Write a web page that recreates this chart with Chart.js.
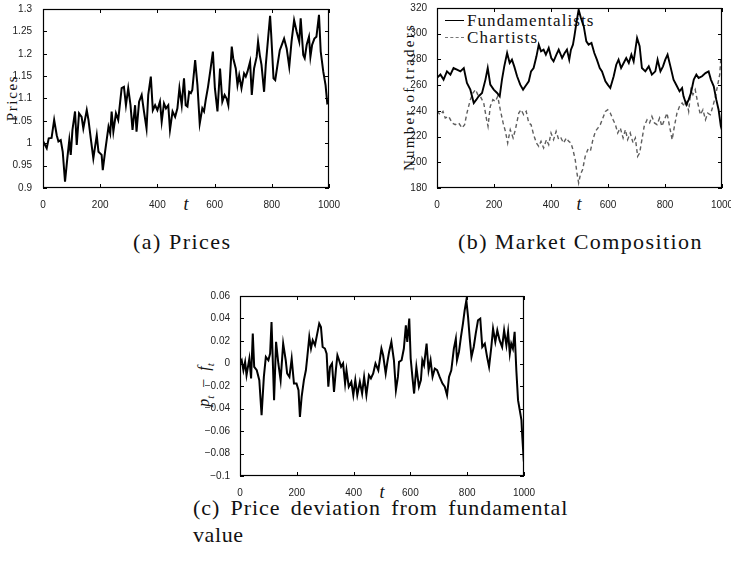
<!DOCTYPE html>
<html>
<head>
<meta charset="utf-8">
<script src="https://cdn.jsdelivr.net/npm/chart.js@4.4.1/dist/chart.umd.min.js"></script>
<style>
  html, body { margin: 0; padding: 0; background: #fff; }
  body { position: relative; width: 731px; height: 564px; overflow: hidden; }
  canvas { position: absolute; z-index: 2; }
  .lbl { position: absolute; white-space: nowrap; font-family: "Liberation Serif", serif; color: #111; line-height: 1; z-index: 1; }
  .rot { transform: translate(-50%, -50%) rotate(-90deg); }
  .ctr { transform: translate(-50%, -50%); }
  .mid { transform: translateY(-50%); }
  .leg-line { position: absolute; height: 0; z-index: 1; }
</style>
</head>
<body>
<canvas id="chartA" width="345" height="215" style="left:0px;top:0px"></canvas>
<canvas id="chartB" width="375" height="215" style="left:370px;top:0px"></canvas>
<canvas id="chartC" width="345" height="215" style="left:195px;top:285px"></canvas>

<div class="lbl rot" id="ylabA" style="left:12px;top:98px;font-size:15px">Prices</div>
<div class="lbl rot" id="ylabB" style="left:409px;top:97px;font-size:15px">Number of traders</div>
<div class="lbl rot" id="ylabC" style="left:206px;top:385px;font-size:16px"><i>p</i><sub style="font-size:11px"><i>t</i></sub> &nbsp;− &nbsp;<i>f</i><sub style="font-size:11px"><i>t</i></sub></div>
<div class="lbl ctr" style="left:186px;top:204px;font-size:18px"><i>t</i></div>
<div class="lbl ctr" style="left:579px;top:204px;font-size:18px"><i>t</i></div>
<div class="lbl ctr" style="left:382px;top:492px;font-size:18px"><i>t</i></div>

<div class="leg-line" style="left:445px;top:20px;width:19px;border-top:1.5px solid #000"></div>
<div class="lbl mid" id="legF" style="left:467px;top:20px;font-size:17px">Fundamentalists</div>
<div class="leg-line" style="left:445px;top:37px;width:19px;border-top:1.5px dashed #777"></div>
<div class="lbl mid" id="legC" style="left:467px;top:37px;font-size:17px">Chartists</div>

<div class="lbl mid" id="capA" style="left:133px;top:242px;font-size:22px">(a) Prices</div>
<div class="lbl mid" id="capB" style="left:458px;top:242px;font-size:22px">(b) Market Composition</div>
<div class="lbl mid" id="capC1" style="left:193px;top:508px;font-size:22px">(c) Price deviation from fundamental</div>
<div class="lbl mid" id="capC2" style="left:193px;top:535px;font-size:22px">value</div>

<script>
// (a) prices
const priceT = [0,4,13,20,30,39,48,54,62,69,77,85,92,97,103,112,118,126,135,141,153,159,167,176,188,194,205,209,217,229,235,240,246,255,263,275,283,290,298,306,313,322,327,336,345,353,362,368,377,384,392,400,409,415,423,430,438,444,453,462,470,477,485,493,499,505,511,517,522,532,540,548,557,563,569,577,586,594,601,610,619,627,635,642,648,660,665,674,680,686,694,703,709,715,724,730,738,747,752,758,764,773,779,787,794,798,806,812,820,828,835,843,852,861,869,878,887,896,901,910,915,922,930,935,941,949,956,965,971,980,988,994,1000];
const priceV = [0.995,1.0,0.989,1.011,1.012,1.052,1.018,1.004,1.007,0.981,0.914,0.966,1.007,0.974,1.03,1.071,0.996,1.067,1.059,1.033,1.074,1.052,1.011,0.966,1.018,0.981,0.974,0.94,0.981,1.037,1.022,1.071,1.026,1.067,1.052,1.123,1.126,1.085,1.123,1.085,1.03,1.085,1.026,1.093,1.108,1.071,1.033,1.108,1.149,1.074,1.085,1.074,1.093,1.048,1.089,1.078,1.085,1.03,1.071,1.059,1.078,1.123,1.085,1.145,1.085,1.082,1.115,1.112,1.119,1.186,1.13,1.044,1.078,1.071,1.097,1.126,1.167,1.205,1.123,1.071,1.167,1.093,1.108,1.1,1.085,1.216,1.19,1.167,1.13,1.152,1.123,1.156,1.149,1.16,1.182,1.108,1.167,1.193,1.227,1.197,1.175,1.115,1.175,1.234,1.285,1.242,1.145,1.141,1.175,1.208,1.22,1.234,1.212,1.171,1.227,1.275,1.249,1.227,1.279,1.197,1.19,1.22,1.238,1.193,1.22,1.234,1.238,1.287,1.205,1.16,1.13,1.089,1.09];
const priceTicks = [0.9,0.95,1,1.05,1.1,1.15,1.2,1.25,1.3];

// (b) market composition
const fundT = [0,12,23,35,47,58,70,82,94,105,117,129,138,146,158,170,178,187,199,211,220,228,236,246,255,263,271,281,292,302,310,322,330,339,349,357,365,374,382,392,401,409,419,427,439,448,456,464,470,477,482,489,497,505,515,524,532,542,552,561,571,579,591,599,608,620,629,637,646,655,664,673,682,690,702,711,719,731,743,754,766,774,784,793,801,809,819,830,842,851,860,865,875,883,891,901,910,918,930,942,953,961,971,980,988,996,1000];
const fundV = [265.6,268.2,264.3,270.7,268.2,273.3,272,270.7,273.3,261.7,256.5,246.1,248.7,251.3,253.9,264.3,273.3,260.4,256.5,253.9,251.3,264.3,274.6,285,277.2,279.8,274.6,266.9,260.4,256.5,259.1,263,270.7,273.3,282.4,291.5,286.3,287.6,283.7,288.9,281.1,278.5,283.7,287.6,281.1,285,287.6,279.8,287.6,291.5,298,308.3,318.7,312.2,305.7,294.1,291.5,292.8,285,279.8,273.3,270.7,263,260.4,257.8,266.9,275.9,279.8,273.3,277.2,281.1,277.2,283.7,278.5,296.7,290.2,273.3,270.7,274.6,268.2,270.7,279.8,270.7,274.6,279.8,283.7,274.6,264.3,259.1,255.2,257.8,251.3,244.8,248.7,253.9,264.3,268.2,265.6,266.9,269.4,270.7,264.3,259.1,248.7,240.9,228,225];
const chartT = [0,12,21,29,41,53,64,76,88,97,105,117,126,135,143,152,164,173,179,187,196,205,213,222,232,240,248,257,267,275,287,295,304,313,322,330,339,349,357,365,374,384,392,400,409,418,427,435,444,454,462,470,477,485,491,497,503,511,520,529,538,547,556,565,573,582,591,599,608,618,626,634,643,653,661,669,678,688,696,704,711,719,727,737,746,754,763,772,781,789,798,807,816,825,833,842,851,860,868,875,883,891,898,906,915,924,933,942,950,959,968,977,985,992,996,1000];
const chartV = [239.6,237,239.6,234.4,235.7,230.6,229.3,230.6,226.7,229.3,238.3,248.7,253.9,256.5,252.6,251.3,246.1,234.4,228,243.5,248.7,247.4,251.3,240.9,230.6,224.1,215,225.4,218.9,225.4,238.3,240.9,237,239.6,230.6,229.3,221.5,215,212.4,216.3,211.1,217.6,213.7,222.8,217.6,224.1,217.6,218.9,215,218.9,216.3,215,209.8,202,191.7,183.9,190.4,194.3,204.6,209.8,208.5,217.6,224.1,226.7,229.3,234.4,239.6,240.9,238.3,233.1,229.3,222.8,226.7,218.9,225.4,217.6,222.8,215,218.9,204.6,207.2,217.6,228,233.1,230.6,235.7,230.6,229.3,234.4,228,233.1,238.3,228,217.6,228,238.3,243.5,246.1,243.5,248.7,239.6,256.5,252.6,256.5,246.1,237,240.9,233.1,238.3,237,243.5,251.3,260.4,268.2,281.1,275];
const tradersTicks = [180,200,220,240,260,280,300,320];

// (c) price deviation from fundamental value
const devT = [0,6,12,18,23,33,39,45,50,59,68,76,84,91,100,106,111,120,127,135,143,152,161,166,174,182,190,199,206,211,217,225,232,237,244,250,256,264,272,279,285,291,299,305,311,317,324,331,338,343,349,356,363,370,375,383,392,399,406,413,422,430,437,445,454,461,469,477,487,498,504,513,519,525,533,542,549,556,560,569,577,584,589,596,601,607,613,621,630,637,642,648,657,664,671,678,686,694,703,713,721,729,736,744,753,760,764,771,778,785,791,797,803,809,815,823,830,838,846,853,862,870,877,885,891,899,906,914,923,930,938,944,950,955,961,967,973,979,985,991,994,999,1000];
const devV = [0,0.0029,-0.006,0.0014,-0.0104,0.0044,-0.0133,0.0266,-0.003,-0.006,-0.0148,-0.0459,-0.0119,0.0059,0.0029,0.0088,0.0369,-0.0326,0.0192,0,-0.0148,0.0177,0.0029,-0.0089,-0.0119,0.0044,-0.0178,-0.0178,-0.0237,-0.0474,-0.0296,-0.0148,-0.006,0.0059,0.0236,0.0133,0.0207,0.0162,0.0266,0.0355,0.0325,0.0147,0.0133,0.0088,-0.0207,-0.003,0,-0.0252,-0.0045,0.0073,0.0029,-0.003,0,-0.0178,-0.006,-0.0207,-0.0163,-0.0281,-0.0148,-0.0281,-0.0163,-0.0267,-0.0119,-0.0281,-0.0104,-0.0133,-0.0089,0,-0.006,0.0133,0.0073,-0.0089,0.0014,0.0103,0.0192,0.0029,-0.0237,-0.0119,0.0014,0.0029,0.0133,0.034,0.0192,0.0399,0.0044,-0.0119,-0.0267,-0.003,-0.0207,-0.0148,0.0029,-0.0015,0.0177,-0.006,0.0029,-0.0119,-0.0045,-0.006,-0.0119,-0.0178,-0.0207,-0.0281,-0.0119,-0.006,0.0133,0.0221,0.0029,0.0103,0.0236,0.0355,0.0473,0.0562,0.0414,0.0221,0.0059,0.0147,0.0266,0.0384,0.0399,0.0147,0.0177,0.0059,-0.003,0.0147,0.031,0.0192,0.0295,0.0207,0.0147,0.0295,0.0162,0.0281,0.0088,0.0177,0.0133,0.0281,-0.006,-0.0326,-0.0414,-0.0503,-0.0651,-0.0858,-0.088];
const devTicks = [-0.1,-0.08,-0.06,-0.04,-0.02,0,0.02,0.04,0.06];

const timeTicks = [0,200,400,600,800,1000];

const tickFont = { family: '"Liberation Sans", Arial, sans-serif', size: 10 };
const tickColor = '#222';

function points(ts, vs) {
    return ts.map((t, i) => ({ x: t, y: vs[i] }));
}

function fmt(v) {
    return String(parseFloat(Number(v).toFixed(3))).replace('-', '\u2212');
}

// box round the plot with short inward ticks on all four sides, like matlab
const matlabBox = {
    id: 'matlabBox',
    afterDatasetsDraw(chart) {
        const { ctx, chartArea: a, scales } = chart;
        const len = 4;
        ctx.save();
        ctx.strokeStyle = '#000';
        ctx.lineWidth = 1;
        ctx.beginPath();
        scales.x.ticks.forEach(t => {
            const px = Math.round(scales.x.getPixelForValue(t.value)) + 0.5;
            ctx.moveTo(px, a.bottom); ctx.lineTo(px, a.bottom - len);
            ctx.moveTo(px, a.top); ctx.lineTo(px, a.top + len);
        });
        scales.y.ticks.forEach(t => {
            const py = Math.round(scales.y.getPixelForValue(t.value)) + 0.5;
            ctx.moveTo(a.left, py); ctx.lineTo(a.left + len, py);
            ctx.moveTo(a.right, py); ctx.lineTo(a.right - len, py);
        });
        ctx.stroke();
        ctx.lineWidth = 1.2;
        ctx.strokeRect(Math.round(a.left) + 0.5, Math.round(a.top) + 0.5,
            Math.round(a.right - a.left) - 1, Math.round(a.bottom - a.top) - 1);
        ctx.restore();
    }
};

function makeChart(id, datasets, yTicks, box) {
    const ctx = document.getElementById(id);
    return new Chart(ctx, {
        type: 'line',
        data: { datasets: datasets },
        options: {
            responsive: false,
            animation: false,
            events: [],
            layout: { padding: { left: 0, top: box.top, right: box.right, bottom: 0 } },
            elements: { point: { radius: 0 }, line: { tension: 0 } },
            plugins: { legend: { display: false }, tooltip: { enabled: false } },
            scales: {
                x: {
                    type: 'linear',
                    min: 0,
                    max: 1000,
                    afterBuildTicks: s => { s.ticks = timeTicks.map(v => ({ value: v })); },
                    afterFit: s => { s.height = box.xh; },
                    grid: { display: false },
                    border: { display: false },
                    ticks: { font: tickFont, color: tickColor, padding: 3, maxRotation: 0, autoSkip: false, callback: v => String(v) }
                },
                y: {
                    min: yTicks[0],
                    max: yTicks[yTicks.length - 1],
                    afterBuildTicks: s => { s.ticks = yTicks.map(v => ({ value: v })); },
                    afterFit: s => { s.width = box.yw; },
                    grid: { display: false },
                    border: { display: false },
                    ticks: { font: tickFont, color: tickColor, padding: box.ypad, autoSkip: false, callback: v => fmt(v) }
                }
            }
        },
        plugins: [matlabBox]
    });
}

makeChart('chartA', [{
    data: points(priceT, priceV),
    borderColor: '#000',
    borderWidth: 2
}], priceTicks, { top: 9, right: 16, xh: 27, yw: 43, ypad: 3 });

makeChart('chartB', [{
    label: 'Fundamentalists',
    data: points(fundT, fundV),
    borderColor: '#000',
    borderWidth: 1.9
}, {
    label: 'Chartists',
    data: points(chartT, chartV),
    borderColor: '#5e5e5e',
    borderWidth: 1.4,
    borderDash: [4, 3]
}], tradersTicks, { top: 8, right: 23, xh: 27, yw: 67, ypad: 2 });

makeChart('chartC', [{
    data: points(devT, devV),
    borderColor: '#000',
    borderWidth: 2
}], devTicks, { top: 11, right: 16, xh: 24, yw: 45, ypad: 2 });

// stretch the serif texts to the widths they have in the figure
function fitLetters(id, width) {
    const el = document.getElementById(id);
    const n = el.textContent.length;
    el.style.letterSpacing = ((width - el.offsetWidth) / n) + 'px';
}
function fitWords(id, width) {
    const el = document.getElementById(id);
    const n = el.textContent.split(' ').length - 1;
    el.style.wordSpacing = ((width - el.offsetWidth) / n) + 'px';
}
fitLetters('ylabA', 47);
fitLetters('ylabB', 148);
fitLetters('legF', 127);
fitLetters('legC', 71);
fitLetters('capA', 99);
fitLetters('capB', 245);
fitLetters('capC1', 359);
fitWords('capC1', 375);
fitLetters('capC2', 51);
</script>
</body>
</html>
